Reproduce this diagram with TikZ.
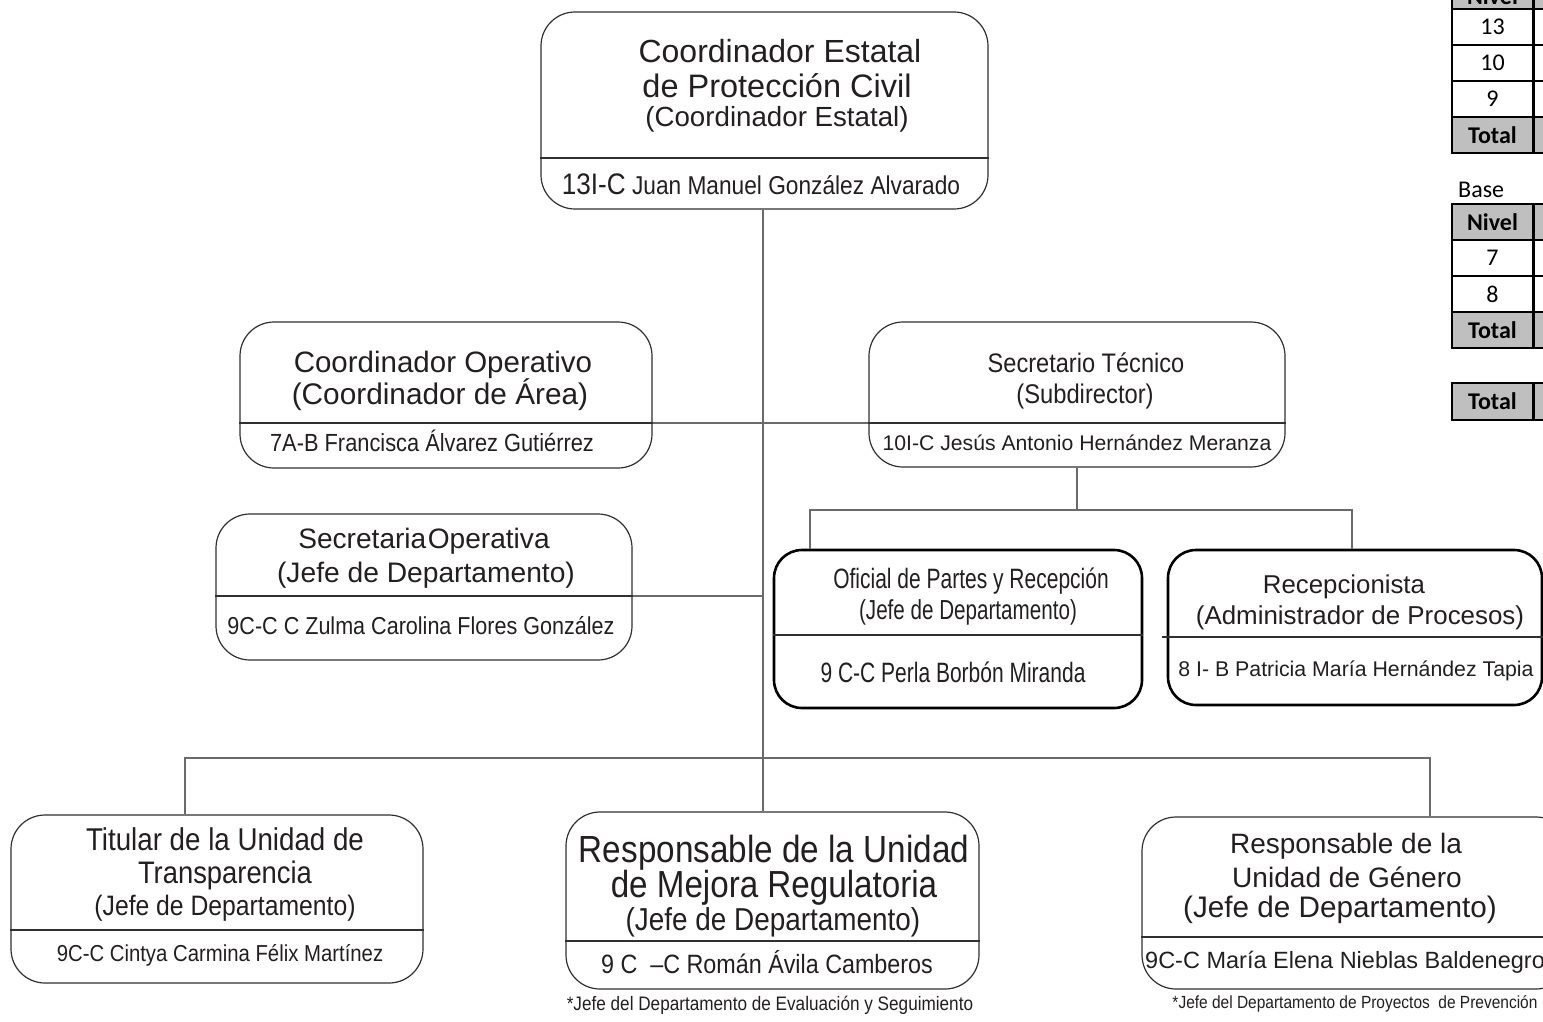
\documentclass[tikz,border=0pt]{standalone}
\usepackage{fontspec}
\setmainfont{Liberation Sans}
\newfontfamily\rg{Liberation Sans}
\newfontfamily\nr[FakeStretch=0.88]{Liberation Sans}
\newfontfamily\nn[FakeStretch=0.75]{Liberation Sans}
\newfontfamily\cb{Carlito}
\newcommand\fsz[1]{\fontsize{#1}{#1}\selectfont}
\usetikzlibrary{fit}
\definecolor{ink}{HTML}{231F20}
\definecolor{boxc}{HTML}{303030}
\definecolor{linec}{HTML}{6A6A6A}
\definecolor{hdr}{HTML}{BFBFBF}
\tikzset{
  box/.style={draw=boxc, line width=1.2pt, rounded corners=34pt, inner sep=0pt},
  boldbox/.style={draw=black, line width=2.6pt, rounded corners=28pt, inner sep=0pt},
  div/.style={draw=boxc, line width=1.2pt},
  conn/.style={draw=linec, line width=1.3pt},
  txt/.style={anchor=base, inner sep=0pt, text=ink},
  cellA/.style={draw=black, line width=2.6pt, minimum width=81pt, inner sep=0pt, font=\cb\fsz{24}},
  celltxt/.style={inner sep=0pt, font=\cb\fsz{24}},
}
\begin{document}
\begin{tikzpicture}[x=1pt,y=-1pt]
\useasboundingbox (0,0) rectangle (1543,1021);
\clip (0,0) rectangle (1543,1021);
\fill[white] (0,0) rectangle (1543,1021);

% ---- boxes
\node[box, fit={(541,12) (988,209)}] (top) {};
\node[box, fit={(240,322) (652,468)}] (coop) {};
\node[box, fit={(869,322) (1285,467)}] (sect) {};
\node[box, fit={(216,514) (632,660)}] (seco) {};
\node[boldbox, fit={(774,550) (1142,708)}] (ofic) {};
\node[boldbox, fit={(1168,550) (1542,705)}] (recp) {};
\node[box, fit={(11,815) (423,983)}] (titu) {};
\node[box, fit={(566,812) (979,989)}] (mejo) {};
\node[box, fit={(1142,817) (1570,989)}] (gene) {};

% ---- dividers
\draw[div] (top.west |- 0,158) -- (top.east |- 0,158);
\draw[div] (coop.west |- 0,423) -- (coop.east |- 0,423);
\draw[div] (sect.west |- 0,423) -- (sect.east |- 0,423);
\draw[div] (seco.west |- 0,596) -- (seco.east |- 0,596);
\draw[div] (ofic.west |- 0,635) -- (ofic.east |- 0,635);
\draw[div] ([xshift=-5pt]recp.west |- 0,637) -- (recp.east |- 0,637);
\draw[div] (titu.west |- 0,930) -- (titu.east |- 0,930);
\draw[div] (mejo.west |- 0,941) -- (mejo.east |- 0,941);
\draw[div] (gene.west |- 0,937) -- (gene.east |- 0,937);

% ---- connectors
\coordinate (spine) at (763,0);
\coordinate (sb) at (1077,510);
\coordinate (ob) at (810,510);
\coordinate (rb) at (1352,510);
\coordinate (tb) at (185,758);
\coordinate (gb) at (1430,758);
\draw[conn] (top.south -| spine) -- (mejo.north -| spine);
\draw[conn] (coop.east |- 0,423) -- (sect.west |- 0,423);
\draw[conn] (seco.east |- 0,596) -- (spine |- 0,596);
\draw[conn] (sect.south -| sb) -- (sb);
\draw[conn] (ofic.north -| ob) -- (ob) -- (rb) -- (recp.north -| rb);
\draw[conn] (titu.north -| tb) -- (tb) -- (gb) -- (gene.north -| gb);

% ---- texts: top
\node[txt, font=\rg\fsz{32}] (t1) at (780,62) {Coordinador Estatal};
\node[txt, font=\rg\fsz{32.5}] (t2) at (777,97) {de Protección Civil};
\node[txt, font=\rg\fsz{27.7}] (t3) at (777,126) {(Coordinador Estatal)};
\node[txt] (t4) at (761,194) {{\nr\fsz{29.7}13I-C}{\nr\fsz{25.8} Juan Manuel González Alvarado}};

% coordinador operativo
\node[txt, font=\rg\fsz{29.5}] (c1) at (443,372) {Coordinador Operativo};
\node[txt, font=\rg\fsz{29.8}] (c2) at (440,404) {(Coordinador de Área)};
\node[txt, font=\nr\fsz{24.8}] (c3) at (432,451) {7A-B Francisca Álvarez Gutiérrez};

% secretario tecnico
\node[txt, font=\nr\fsz{26.8}] (s1) at (1086,372) {Secretario Técnico};
\node[txt, font=\nr\fsz{27}] (s2) at (1085,403) {(Subdirector)};
\node[txt, font=\rg\fsz{21.2}] (s3) at (1077,450) {10I-C Jesús Antonio Hernández Meranza};

% secretaria operativa
\node[txt, font=\rg\fsz{28.1}] (o1) at (424,548) {Secretaria\kern1.5pt Operativa};
\node[txt, font=\rg\fsz{28.2}] (o2) at (426,582) {(Jefe de Departamento)};
\node[txt, font=\nr\fsz{24.5}] (o3) at (421,634) {9C-C C Zulma Carolina Flores González};

% oficial de partes
\node[txt, font=\nn\fsz{28}] (f1) at (971,588) {Oficial de Partes y Recepción};
\node[txt, font=\nn\fsz{27.5}] (f2) at (968,619) {(Jefe de Departamento)};
\node[txt, font=\nn\fsz{28}] (f3) at (953,682) {9 C-C Perla Borbón Miranda};

% recepcionista
\node[txt, font=\rg\fsz{25.8}] (r1) at (1344,593) {Recepcionista};
\node[txt, font=\rg\fsz{25.9}] (r2) at (1360,624) {(Administrador de Procesos)};
\node[txt, font=\rg\fsz{21.3}] (r3) at (1356,676) {8 I- B Patricia María Hernández Tapia};

% titular
\node[txt, font=\nr\fsz{31.5}] (u1) at (225,850) {Titular de la Unidad de};
\node[txt, font=\nr\fsz{31.1}] (u2) at (225,883) {Transparencia};
\node[txt, font=\nr\fsz{28.1}] (u3) at (225,915) {(Jefe de Departamento)};
\node[txt, font=\nr\fsz{23.1}] (u4) at (220,961) {9C-C Cintya Carmina Félix Martínez};

% mejora regulatoria
\node[txt, font=\nr\fsz{37.8}] (m1) at (774,862) {Responsable de la Unidad};
\node[txt, font=\nr\fsz{37.7}] (m2) at (774,897) {de Mejora Regulatoria};
\node[txt, font=\nr\fsz{31.7}] (m3) at (773,930) {(Jefe de Departamento)};
\node[txt, font=\nr\fsz{26.5}] (m4) at (767,973) {9 C\ \ –C Román Ávila Camberos};
\node[txt, font=\nr\fsz{19.5}] (m5) at (770,1010) {*Jefe del Departamento de Evaluación y Seguimiento};

% genero
\node[txt, font=\rg\fsz{28}] (g1) at (1346,853) {Responsable de la};
\node[txt, font=\rg\fsz{28.1}] (g2) at (1347,887) {Unidad de Género};
\node[txt, font=\rg\fsz{29.7}] (g3) at (1340,917) {(Jefe de Departamento)};
\node[txt, anchor=base west, font=\rg\fsz{23.5}] (g4) at (1145,968) {9C-C María Elena Nieblas Baldenegro};
\node[txt, font=\nr\fsz{17.6}] (g5) at (1355,1008) {*Jefe del Departamento de Proyectos\ \ de Prevención};

% ---- tables
\node[cellA, fill=hdr, minimum height=36pt] (a0) at (1492.5,-9) {};
\node[celltxt, font=\cb\bfseries\fsz{24}] (a0t) at (1492.5,-4) {Nivel};
\node[cellA, minimum height=36pt] (a1) at (1492.5,27) {13};
\node[cellA, minimum height=36pt] (a2) at (1492.5,63) {10};
\node[cellA, minimum height=36pt] (a3) at (1492.5,99) {9};
\node[cellA, fill=hdr, minimum height=36pt] (a4) at (1492.5,135) {\bfseries Total};
\node[cellA, fill=hdr, minimum height=36pt] (a0b) at (1574,-9) {};
\node[cellA, minimum height=36pt] (a1b) at (1574,27) {};
\node[cellA, minimum height=36pt] (a2b) at (1574,63) {};
\node[cellA, minimum height=36pt] (a3b) at (1574,99) {};
\node[cellA, fill=hdr, minimum height=36pt] (a4b) at (1574,135) {};

\node[anchor=base west, inner sep=0pt, font=\cb\fsz{24}] (base) at (1458,197) {Base};

\node[cellA, fill=hdr, minimum height=36pt] (b0) at (1492.5,222) {\bfseries Nivel};
\node[cellA, minimum height=36pt] (b1) at (1492.5,258) {7};
\node[cellA, minimum height=36pt] (b2) at (1492.5,294) {8};
\node[cellA, fill=hdr, minimum height=36pt] (b3) at (1492.5,330) {\bfseries Total};
\node[cellA, fill=hdr, minimum height=36pt] (b0b) at (1574,222) {};
\node[cellA, minimum height=36pt] (b1b) at (1574,258) {};
\node[cellA, minimum height=36pt] (b2b) at (1574,294) {};
\node[cellA, fill=hdr, minimum height=36pt] (b3b) at (1574,330) {};

\node[cellA, fill=hdr, minimum height=37pt] (c0) at (1492.5,401.5) {\bfseries Total};
\node[cellA, fill=hdr, minimum height=37pt] (c0b) at (1574,401.5) {};
\end{tikzpicture}
\end{document}
